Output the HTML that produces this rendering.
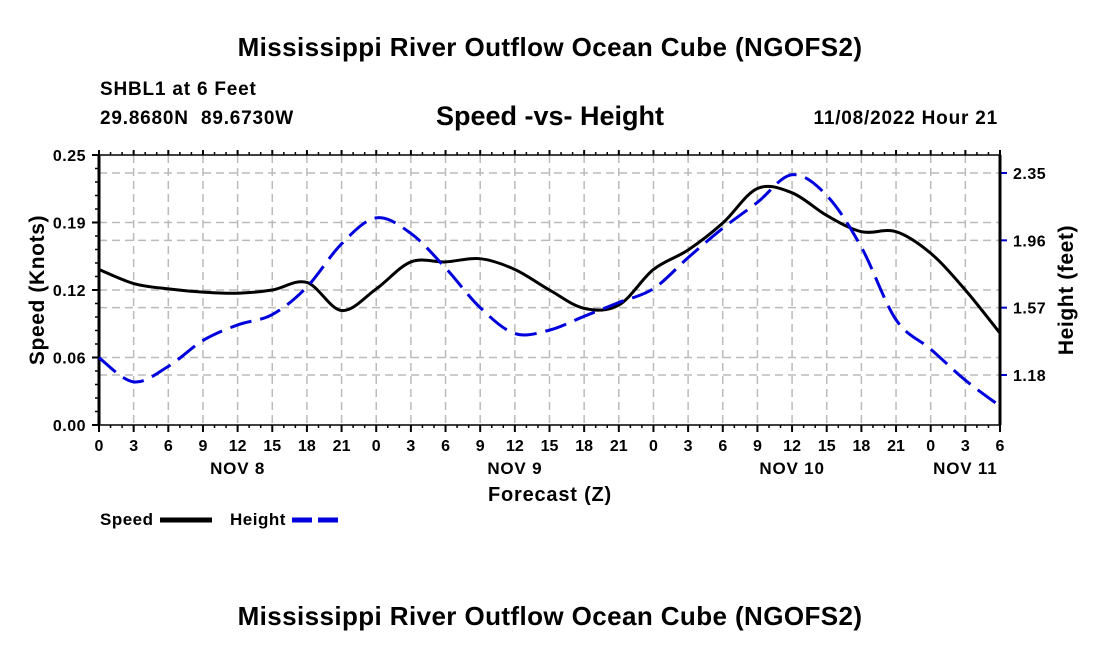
<!DOCTYPE html>
<html><head><meta charset="utf-8"><style>
body{margin:0;background:#fff;}
svg text{font-family:"Liberation Sans",Arial,sans-serif;font-weight:bold;fill:#000;}
</style></head><body>
<svg id="chart" width="1100" height="650" xmlns="http://www.w3.org/2000/svg">
<text x="550" y="56" font-size="26" letter-spacing="0.4" text-anchor="middle">Mississippi River Outflow Ocean Cube (NGOFS2)</text>
<text x="100" y="95" font-size="19" letter-spacing="0.8">SHBL1 at 6 Feet</text>
<text x="100" y="124" font-size="19" letter-spacing="0.8" xml:space="preserve">29.8680N  89.6730W</text>
<text x="550" y="125" font-size="27" text-anchor="middle">Speed -vs- Height</text>
<text x="998" y="124" font-size="19" letter-spacing="0.8" text-anchor="end">11/08/2022 Hour 21</text>
<g id="grid"></g>
<g id="axes"></g>
<g id="series"></g>
<text transform="translate(44,290) rotate(-90)" font-size="21" letter-spacing="0.6" text-anchor="middle">Speed (Knots)</text>
<text transform="translate(1073,290) rotate(-90)" font-size="21" letter-spacing="0.6" text-anchor="middle">Height (feet)</text>
<text x="550" y="501" font-size="20" letter-spacing="0.8" text-anchor="middle">Forecast (Z)</text>
<g>
<text x="100" y="525" font-size="17" letter-spacing="0.5">Speed</text>
<line x1="160" y1="520" x2="212" y2="520" stroke="#000" stroke-width="5"/>
<text x="230" y="525" font-size="17" letter-spacing="0.5">Height</text>
<line x1="292" y1="520" x2="343" y2="520" stroke="#0000dd" stroke-width="5" stroke-dasharray="20,6"/>
</g>
<text x="550" y="625" font-size="26" letter-spacing="0.4" text-anchor="middle">Mississippi River Outflow Ocean Cube (NGOFS2)</text>
</svg>
<script>
const hours=[0,3,6,9,12,15,18,21,24,27,30,33,36,39,42,45,48,51,54,57,60,63,66,69,72,75,78];
const speedKnots=[.144,.131,.126,.123,.122,.125,.132,.106,.126,.151,.151,.154,.144,.125,.108,.111,.144,.162,.187,.219,.215,.194,.179,.179,.159,.125,.085];
const heightFeet=[1.28,1.14,1.23,1.38,1.47,1.53,1.69,1.94,2.09,2.00,1.80,1.57,1.42,1.44,1.52,1.60,1.68,1.86,2.03,2.18,2.34,2.22,1.92,1.50,1.33,1.15,1.00];
const xTickLabels=['0','3','6','9','12','15','18','21','0','3','6','9','12','15','18','21','0','3','6','9','12','15','18','21','0','3','6'];
const dayLabels=['NOV 8','NOV 9','NOV 10','NOV 11'];
const dayHours=[12,36,60,75];
const speedTicks=[0,0.0625,0.125,0.1875,0.25];
const speedTickLabels=['0.00','0.06','0.12','0.19','0.25'];
const heightTicks=[1.18,1.57,1.96,2.35];
const heightTickLabels=['1.18','1.57','1.96','2.35'];

const X0=99,X1=1000,YT=155,YB=425,HMAX=78;
const NS='http://www.w3.org/2000/svg';
function xs(h){return X0+h*(X1-X0)/HMAX;}
function ys(v){return YB-v*(YB-YT)/0.25;}
function yh(f){return 375-(f-1.18)*(375-173)/1.17;}
function mk(tag,attrs,parent,txt){const e=document.createElementNS(NS,tag);for(const k in attrs)e.setAttribute(k,attrs[k]);if(txt!==undefined)e.textContent=txt;parent.appendChild(e);return e;}
const grid=document.getElementById('grid'),axes=document.getElementById('axes'),series=document.getElementById('series');
const gs={stroke:'#bbb','stroke-width':1.5,'stroke-dasharray':'8,5'};
hours.forEach((h,i)=>{
  const x=xs(h);
  if(i>0&&i<hours.length-1){const l=mk('line',Object.assign({x1:x,y1:YT,x2:x,y2:YB},gs),grid);
  
  }
  const t=mk('line',{x1:x,y1:YB,x2:x,y2:YB+7,stroke:'#000','stroke-width':2},axes);
  
  
  const t2=mk('line',{x1:x,y1:YT,x2:x,y2:YT-5,stroke:'#000','stroke-width':2},axes);
  
  
  const lb=mk('text',{x:x,y:451,'font-size':16,'text-anchor':'middle'},axes,xTickLabels[i]);
  
  
});
for(let h=0;h<=HMAX;h++){const x=xs(h);
  mk('line',{x1:x,y1:YB,x2:x,y2:YB+3,stroke:'#000','stroke-width':1.5},axes);
  mk('line',{x1:x,y1:YT,x2:x,y2:YT-3,stroke:'#000','stroke-width':1.5},axes);}
dayLabels.forEach((d,i)=>{const t=mk('text',{x:xs(dayHours[i]),y:474,'font-size':17,'letter-spacing':'0.8','text-anchor':'middle'},axes,d);
  
  });
speedTicks.forEach((v,i)=>{const y=ys(v);
  if(i>0&&i<speedTicks.length-1){const l=mk('line',Object.assign({x1:X0,y1:y,x2:X1,y2:y},gs),grid);
  
  }
  mk('line',{x1:X0,y1:y,x2:X0-7,y2:y,stroke:'#000','stroke-width':2},axes);
  const t=mk('text',{x:X0-13,y:y+6,'font-size':16,'letter-spacing':'0.5','text-anchor':'end'},axes,speedTickLabels[i]);
  
  });
for(let k=0;k<=20;k++){const y=ys(k*0.0125);mk('line',{x1:X0,y1:y,x2:X0-4,y2:y,stroke:'#000','stroke-width':1.5},axes);}
heightTicks.forEach((f,i)=>{const y=yh(f);
  const l=mk('line',Object.assign({x1:X0,y1:y,x2:X1,y2:y},gs),grid);
  
  
  mk('line',{x1:X1,y1:y,x2:X1+7,y2:y,stroke:'#0000cc','stroke-width':2},axes);
  const t=mk('text',{x:X1+13,y:y+6,'font-size':16,'letter-spacing':'0.5'},axes,heightTickLabels[i]);
  
  });
mk('rect',{x:X0,y:YT,width:X1-X0,height:YB-YT,fill:'none',stroke:'#000','stroke-width':1.5},axes);
mk('line',{x1:X0,y1:YT,x2:X0,y2:YB,stroke:'#000','stroke-width':3},axes);
mk('line',{x1:X1,y1:YT,x2:X1,y2:YB,stroke:'#000','stroke-width':3},axes);
function smooth(pts){let d='M'+pts[0][0]+','+pts[0][1];
  for(let i=0;i<pts.length-1;i++){const p0=pts[Math.max(0,i-1)],p1=pts[i],p2=pts[i+1],p3=pts[Math.min(pts.length-1,i+2)];
    d+=' C'+(p1[0]+(p2[0]-p0[0])/6)+','+(p1[1]+(p2[1]-p0[1])/6)+' '+(p2[0]-(p3[0]-p1[0])/6)+','+(p2[1]-(p3[1]-p1[1])/6)+' '+p2[0]+','+p2[1];}
  return d;}
const sp=mk('path',{d:smooth(hours.map((h,i)=>[xs(h),ys(speedKnots[i])])),fill:'none',stroke:'#000','stroke-width':3},series);


const hp=mk('path',{d:smooth(hours.map((h,i)=>[xs(h),yh(heightFeet[i])])),fill:'none',stroke:'#0000dd','stroke-width':3,'stroke-dasharray':'22,9'},series);


</script>
</body></html>
